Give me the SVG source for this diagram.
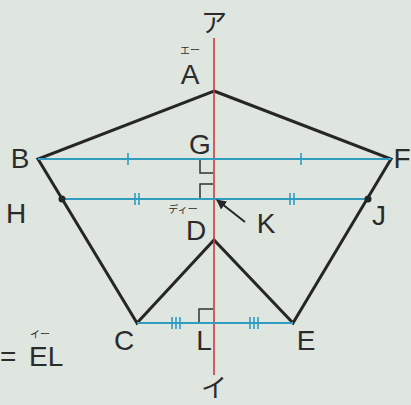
<svg xmlns="http://www.w3.org/2000/svg" width="411" height="405" viewBox="0 0 411 405">
<style>
.lbl{font-family:"Liberation Sans","Noto Sans CJK JP",sans-serif;font-size:28px;fill:#2b2b2b}
.jp{font-family:"Noto Sans CJK JP",sans-serif;fill:#2b2b2b}
.ruby{font-family:"Noto Sans CJK JP",sans-serif;font-size:10px;fill:#2b2b2b}
.edge{stroke:#262626;stroke-width:3;fill:none;stroke-linejoin:miter}
.blue{stroke:#2f9cc0;stroke-width:2;fill:none}
.tick{stroke:#2f9cc0;stroke-width:1.6}
.ra{stroke:#333;stroke-width:1.5;fill:none}
</style>
<defs>
<marker id="ah" markerWidth="10" markerHeight="10" refX="9" refY="5" orient="auto" markerUnits="userSpaceOnUse">
<path d="M0,0 L10,5 L0,10 Z" fill="#262626"/>
</marker>
</defs>
<rect width="411" height="405" fill="#dfe5df"/>
<g id="shape">
<polygon points="214,91 391,159 293,323 214,240 137,323 38,159" fill="#eef3f3" class="edge"/>
</g>
<g id="connectors">
<line x1="214" y1="38" x2="214" y2="375" stroke="#c83c3c" stroke-width="1.6"/>
<line x1="38" y1="159" x2="391" y2="159" class="blue"/>
<line x1="62" y1="199" x2="368" y2="199" class="blue"/>
<line x1="137" y1="323" x2="293" y2="323" class="blue"/>
<line x1="128" y1="153" x2="128" y2="165" class="tick"/>
<line x1="301" y1="153" x2="301" y2="165" class="tick"/>
<line x1="135" y1="193" x2="135" y2="205" class="tick"/>
<line x1="139" y1="193" x2="139" y2="205" class="tick"/>
<line x1="290" y1="193" x2="290" y2="205" class="tick"/>
<line x1="294" y1="193" x2="294" y2="205" class="tick"/>
<line x1="172" y1="317" x2="172" y2="329" class="tick"/>
<line x1="176" y1="317" x2="176" y2="329" class="tick"/>
<line x1="180" y1="317" x2="180" y2="329" class="tick"/>
<line x1="250" y1="317" x2="250" y2="329" class="tick"/>
<line x1="254" y1="317" x2="254" y2="329" class="tick"/>
<line x1="258" y1="317" x2="258" y2="329" class="tick"/>
<polyline points="200,160 200,173 213,173" class="ra"/>
<polyline points="200,198 200,184 213,184" class="ra"/>
<polyline points="199,322 199,309 213,309" class="ra"/>
<line x1="245" y1="222" x2="217" y2="200" stroke="#262626" stroke-width="2" marker-end="url(#ah)"/>
<circle cx="62" cy="199" r="3.5" fill="#262626"/>
<circle cx="368" cy="199" r="3.5" fill="#262626"/>
</g>
<g id="labels">
<text class="jp" x="214" y="32" font-size="26" text-anchor="middle">ア</text>
<text class="ruby" x="190" y="54" text-anchor="middle">エー</text>
<text class="lbl" x="190" y="84" text-anchor="middle">A</text>
<text class="lbl" x="20" y="168" text-anchor="middle">B</text>
<text class="lbl" x="402" y="168" text-anchor="middle">F</text>
<text class="lbl" x="200" y="154" text-anchor="middle">G</text>
<text class="lbl" x="16" y="223" text-anchor="middle">H</text>
<text class="lbl" x="379" y="225" text-anchor="middle">J</text>
<text class="ruby" x="183" y="213" text-anchor="middle">ディー</text>
<text class="lbl" x="266" y="233" text-anchor="middle">K</text>
<text class="lbl" x="196" y="240" text-anchor="middle">D</text>
<text class="lbl" x="124" y="350" text-anchor="middle">C</text>
<text class="lbl" x="204" y="350" text-anchor="middle">L</text>
<text class="lbl" x="306" y="350" text-anchor="middle">E</text>
<text class="jp" x="214" y="397" font-size="26" text-anchor="middle">イ</text>
<text class="ruby" x="40" y="338" text-anchor="middle">イー</text>
<text class="lbl" x="0" y="366">=</text>
<text class="lbl" x="29" y="366">EL</text>
</g>
</svg>
